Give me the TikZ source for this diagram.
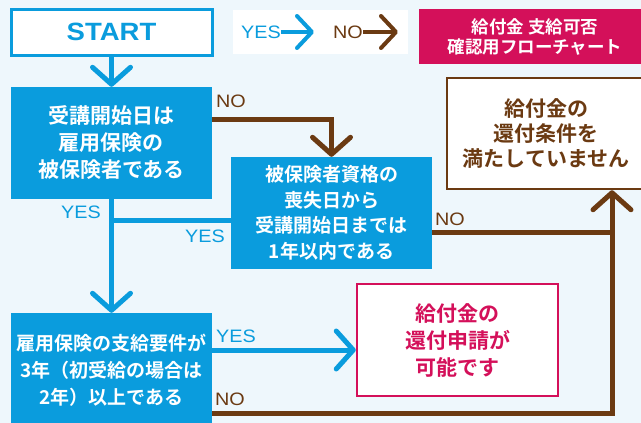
\documentclass[tikz,border=0pt]{standalone}
\usepackage{fontspec}
\setmainfont{Noto Sans CJK JP}[BoldFont=* Bold]
\newfontfamily\lat{Liberation Sans}[FakeStretch=1.1]
\usetikzlibrary{arrows.meta}
\definecolor{bg}{HTML}{EEF7FC}
\definecolor{myblue}{HTML}{0A9CDD}
\definecolor{mybrown}{HTML}{6B3A12}
\definecolor{mypink}{HTML}{D4105A}
\begin{document}
\begin{tikzpicture}[x=1pt,y=-1pt,
  box/.style={inner sep=0pt, align=center, minimum width=201pt, minimum height=112pt},
  bluebox/.style={box, fill=myblue, text=white, font=\bfseries\fontsize{19}{25.5}\selectfont},
  endbox/.style={box, fill=white, line width=2.5pt, font=\bfseries\fontsize{21}{26.5}\selectfont},
  blueline/.style={draw=myblue, line width=5pt},
  brownline/.style={draw=mybrown, line width=5pt},
  chev/.style={-{Straight Barb[length=17pt,width=38pt,round]}},
  smallchev/.style={-{Straight Barb[length=15pt,width=32pt,round]}},
  yeslbl/.style={text=myblue, font=\lat\fontsize{18}{18}\selectfont, inner sep=0pt},
  nolbl/.style={text=mybrown, font=\lat\fontsize{18}{18}\selectfont, inner sep=0pt},
]
\fill[bg] (0,0) rectangle (641,423);
\useasboundingbox (0,0) rectangle (641,423);

% legend
\node[fill=white, minimum width=175pt, minimum height=44pt, inner sep=0pt] (legend) at (320.5,32) {};
\node[yeslbl] (lgyes) at (261,32) {YES};
\coordinate (lgyestip) at (314,32);
\node[nolbl] (lgno) at (348,32) {NO};
\coordinate (lgnotip) at (398,32);
\draw[blueline, line width=4pt, smallchev] (lgyes.east) -- (lgyestip);
\draw[brownline, line width=4pt, smallchev] (lgno.east) -- (lgnotip);

% title
\node[fill=mypink, text=white, inner sep=0pt, minimum width=232pt, minimum height=55pt,
      align=center, font=\bfseries\fontsize{17.5}{20}\selectfont] (title) at (535,36.5)
      {給付金 支給可否\\確認用フローチャート};

% boxes
\node[box, fill=white, draw=myblue, line width=3pt, minimum height=46pt,
      text=myblue, font=\lat\bfseries\fontsize{25}{25}\selectfont] (start) at (111.5,32) {START};
\node[bluebox, font=\bfseries\fontsize{21}{27}\selectfont] (q1) at (111.5,143)
      {受講開始日は\\雇用保険の\\被保険者である};
\node[bluebox] (q2) at (331.5,213)
      {被保険者資格の\\喪失日から\\受講開始日までは\\1年以内である};
\node[bluebox, minimum height=114pt, font=\bfseries\fontsize{19}{27}\selectfont] (q3) at (111.5,370)
      {雇用保険の支給要件が\\3年（初受給の場合は\\2年）以上である};
\node[endbox, draw=mybrown, text=mybrown, minimum width=198pt, minimum height=111pt,
      font=\bfseries\fontsize{21}{25}\selectfont] (ng) at (546,133.5)
      {給付金の\\還付条件を\\満たしていません};
\node[endbox, draw=mypink, text=mypink, font=\bfseries\fontsize{21}{27}\selectfont] (ok) at (457.5,340)
      {給付金の\\還付申請が\\可能です};

% connectors
\coordinate (rx) at (612,0);
\draw[blueline, chev] (start) -- (q1);
\draw[brownline, chev] ([yshift=24pt]q1.east) -| (q2.north);
\draw[blueline, chev] (q1.south) -- (q3.north);
\path ([yshift=-7pt]q2.west) coordinate (q2yes);
\draw[blueline] (q2yes) -| (q1.south);
\path ([yshift=-19pt]q2.east) coordinate (q2no);
\draw[brownline] (q2no) -- (q2no -| rx);
\path ([yshift=20pt]q3.east) coordinate (q3yes);
\draw[blueline, chev] (q3yes) -- (q3yes -| ok.west);
\path ([yshift=-43pt]q3.east) coordinate (q3no);
\draw[brownline, chev] (q3no) -| (ng.south -| rx);

% labels
\node[nolbl] (l1) at (231,101) {NO};
\node[yeslbl] (l2) at (81,212) {YES};
\node[yeslbl] (l3) at (205,236) {YES};
\node[nolbl] (l4) at (450,219) {NO};
\node[yeslbl] (l5) at (236,336) {YES};
\node[nolbl] (l6) at (230,399) {NO};
\end{tikzpicture}
\end{document}
